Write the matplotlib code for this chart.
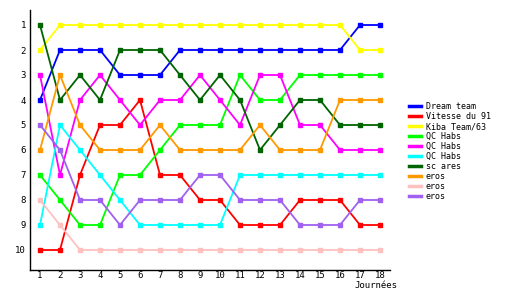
import matplotlib.pyplot as plt

plt.rcParams['font.family'] = ['DejaVu Sans Mono']

journees = list(range(1, 19))

teams = ['Dream team', 'Vitesse du 91', 'Kiba Team/63', 'QC Habs', 'QC Habs',
         'QC Habs', 'sc ares', 'eros', 'eros', 'eros']

dream_team = [4, 2, 2, 2, 3, 3, 3, 2, 2, 2, 2, 2, 2, 2, 2, 2, 1, 1]
vitesse = [10, 10, 7, 5, 5, 4, 7, 7, 8, 8, 9, 9, 9, 8, 8, 8, 9, 9]
kiba = [2, 1, 1, 1, 1, 1, 1, 1, 1, 1, 1, 1, 1, 1, 1, 1, 2, 2]
qc_green = [7, 8, 9, 9, 7, 7, 6, 5, 5, 5, 3, 4, 4, 3, 3, 3, 3, 3]
qc_magenta = [3, 7, 4, 3, 4, 5, 4, 4, 3, 4, 5, 3, 3, 5, 5, 6, 6, 6]
qc_cyan = [9, 5, 6, 7, 8, 9, 9, 9, 9, 9, 7, 7, 7, 7, 7, 7, 7, 7]
sc_ares = [1, 4, 3, 4, 2, 2, 2, 3, 4, 3, 4, 6, 5, 4, 4, 5, 5, 5]
eros_orange = [6, 3, 5, 6, 6, 6, 5, 6, 6, 6, 6, 5, 6, 6, 6, 4, 4, 4]
eros_pink = [8, 9, 10, 10, 10, 10, 10, 10, 10, 10, 10, 10, 10, 10, 10, 10, 10, 10]
eros_purple = [5, 6, 8, 8, 9, 8, 8, 8, 7, 7, 8, 8, 8, 9, 9, 9, 8, 8]

series = [dream_team, vitesse, kiba, qc_green, qc_magenta, qc_cyan,
          sc_ares, eros_orange, eros_pink, eros_purple]
colors = ['#0000ff', '#ff0000', '#ffff00', '#00ff00', '#ff00ff', '#00ffff',
          '#006400', '#ff9900', '#ffc0c0', '#a060f0']

fig = plt.figure(figsize=(5.3, 3), dpi=100)
ax = fig.add_axes([30 / 530, 30 / 300, 360 / 530, 260 / 300])

for vals, name, c in zip(series, teams, colors):
    ax.plot(journees, vals, color=c, lw=1.3, marker='s', markersize=2.5,
            label=name)

ax.set_xlim(0.5, 18.5)
ax.set_ylim(10.8, 0.4)
ax.set_xticks(journees)
ax.set_yticks(range(1, 11))
ax.tick_params(length=0, labelsize=6.5)
ax.tick_params(axis='x', pad=1)
ax.tick_params(axis='y', pad=3)
for s in ['top', 'right']:
    ax.spines[s].set_visible(False)
ax.spines['left'].set_linewidth(1)
ax.spines['bottom'].set_linewidth(1)

fig.text(376 / 530, 1 - 286 / 300, 'Journées', fontsize=6.5, ha='center',
         va='center')

leg = ax.legend(loc='upper left', bbox_to_anchor=(405 / 530, 1 - 98 / 300),
                bbox_transform=fig.transFigure, frameon=False, fontsize=6,
                handlelength=1.4, handletextpad=0.6, labelspacing=0.12,
                borderpad=0, markerscale=0)
for h in leg.get_lines():
    h.set_linewidth(2.5)

fig.savefig('out.png', dpi=100)
